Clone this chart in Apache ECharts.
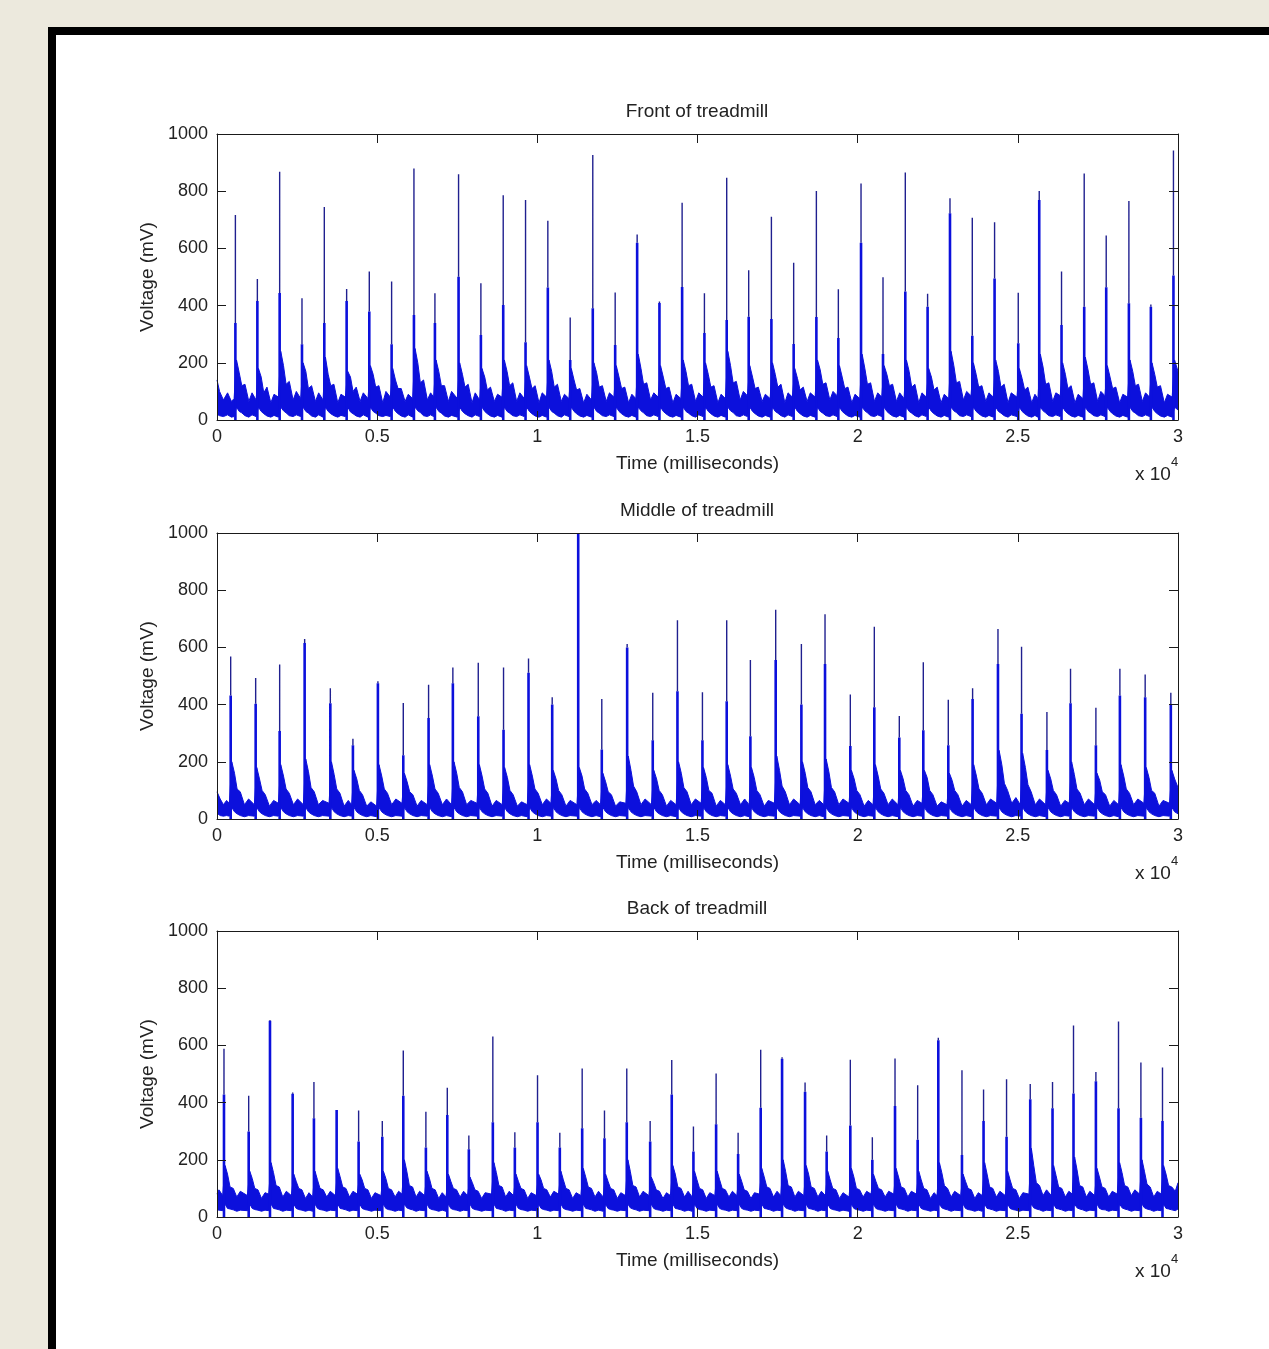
<!DOCTYPE html>
<html>
<head>
<meta charset="utf-8">
<title>Treadmill voltage</title>
<script src="https://cdn.jsdelivr.net/npm/echarts@6/dist/echarts.min.js"></script>
<style>
  html, body { margin: 0; padding: 0; background: #ECE9DD; overflow: hidden; width: 1269px; height: 1349px; }
  #frame { position: absolute; left: 48px; top: 27px; width: 1300px; height: 1400px; border: 8px solid #000; background: #fff; box-sizing: border-box; }
  #chart { position: absolute; left: 0; top: 0; width: 1269px; height: 1349px; }
</style>
</head>
<body>
<div id="frame"></div>
<div id="chart"></div>
<script>
// spike times (ms), peak and shoulder voltages (mV)
const frontSpikeT = [574,1260,1956,2653,3350,4047,4754,5451,6148,6803,7541,8238,8935,9632,10328,11026,11731,12430,13116,13812,14520,15216,15912,16598,17307,18002,18711,19397,20105,20791,21487,22183,22882,23578,24274,25013,25668,26364,27072,27759,28467,29153,29858]
const frontPeak = [717,493,868,426,745,458,519,484,879,443,859,478,786,769,697,358,927,446,649,414,760,443,847,524,711,550,801,457,827,499,865,441,775,707,691,445,801,519,862,645,766,404,942]
const frontShoulder = [339,416,444,265,339,416,379,265,367,339,501,297,402,272,463,210,391,262,620,409,465,304,350,361,353,266,360,287,620,231,449,396,723,295,495,268,769,332,396,464,408,396,505]

const middleSpikeT = [427,1207,1956,2736,3538,4243,5023,5815,6605,7363,8156,8945,9725,10464,11276,12012,12804,13603,14374,15154,15912,16651,17441,18243,18981,19771,20520,21300,22049,22829,23588,24380,25116,25908,26645,27437,28186,28975,29776]
const middlePeak = [568,493,540,629,457,281,482,406,469,530,546,530,561,426,1000,420,612,441,695,443,695,556,732,612,716,435,672,360,548,417,457,664,602,374,525,389,525,505,441]
const middleShoulder = [432,403,308,615,405,258,475,223,353,475,359,312,511,400,1000,243,600,275,447,275,412,289,556,400,542,255,391,285,310,258,420,542,368,241,405,258,432,426,400]

const backSpikeT = [218,989,1654,2362,3026,3735,4421,5160,5815,6521,7189,7862,8611,9298,10006,10702,11400,12096,12792,13522,14196,14873,15581,16268,16973,17640,18358,19032,19771,20458,21166,21873,22517,23256,23930,24648,25387,26083,26738,27437,28143,28842,29516]
const backPeak = [588,424,689,435,472,376,372,336,582,368,452,285,631,296,496,295,519,372,519,336,549,316,502,295,585,559,470,285,550,279,554,461,627,513,446,482,465,472,670,507,684,540,523]
const backShoulder = [428,299,686,431,345,374,264,281,424,243,357,237,331,243,331,243,310,275,331,264,428,229,324,220,382,553,438,229,320,200,388,270,618,217,336,281,412,380,432,475,380,347,336]

// noise band envelope: [time, low, high]
const frontBand = [[0,20,140],[80,15,100],[200,12,70],[330,18,95],[450,10,65],
  [534,12,75],[609,45,210],[694,30,165],[774,25,120],[874,15,125],[994,10,65],[1094,18,95],
  [1220,12,70],[1295,45,180],[1380,30,150],[1460,22,95],[1560,14,115],[1680,10,60],[1780,16,90],
  [1916,10,80],[1991,45,240],[2076,32,190],[2156,25,125],[2256,15,135],[2376,12,70],[2476,18,100],
  [2613,12,75],[2688,45,200],[2773,30,170],[2853,24,110],[2953,14,120],[3073,10,65],[3173,18,95],
  [3310,10,70],[3385,45,220],[3470,30,160],[3550,22,120],[3650,15,125],[3770,10,60],[3870,16,90],
  [4007,12,80],[4082,45,170],[4167,28,150],[4247,22,100],[4347,14,115],[4467,10,65],[4567,18,95],
  [4714,10,75],[4789,45,190],[4874,30,160],[4954,24,115],[5054,15,120],[5174,12,60],[5274,16,100],
  [5411,12,80],[5486,45,180],[5571,30,140],[5651,22,110],[5751,14,110],[5871,10,65],[5971,18,90],
  [6108,10,75],[6183,45,250],[6268,32,200],[6348,26,130],[6448,15,140],[6568,12,70],[6668,18,95],
  [6763,12,80],[6838,45,210],[6923,30,170],[7003,24,120],[7103,14,120],[7223,10,65],[7323,16,100],
  [7501,10,75],[7576,45,200],[7661,30,160],[7741,22,115],[7841,15,125],[7961,10,60],[8061,18,95],
  [8198,12,70],[8273,45,180],[8358,30,150],[8438,22,105],[8538,14,115],[8658,10,65],[8758,16,90],
  [8895,10,80],[8970,45,210],[9055,30,170],[9135,24,120],[9235,15,130],[9355,12,65],[9455,18,95],
  [9592,12,75],[9667,45,190],[9752,30,150],[9832,22,110],[9932,14,120],[10052,10,60],[10152,16,95],
  [10288,10,80],[10363,45,210],[10448,30,170],[10528,24,115],[10628,15,125],[10748,10,65],[10848,18,90],
  [10986,12,75],[11061,45,180],[11146,30,140],[11226,22,105],[11326,14,110],[11446,10,60],[11546,16,90],
  [11691,10,70],[11766,45,200],[11851,30,165],[11931,24,115],[12031,15,120],[12151,12,65],[12251,18,95],
  [12390,12,80],[12465,45,190],[12550,30,150],[12630,22,110],[12730,14,115],[12850,10,60],[12950,16,90],
  [13076,10,75],[13151,45,230],[13236,32,180],[13316,25,125],[13416,15,130],[13536,12,70],[13636,18,95],
  [13772,12,80],[13847,45,190],[13932,30,150],[14012,22,110],[14112,14,115],[14232,10,60],[14332,16,90],
  [14480,10,75],[14555,45,210],[14640,30,170],[14720,24,120],[14820,15,125],[14940,10,65],[15040,18,95],
  [15176,12,80],[15251,45,200],[15336,30,160],[15416,22,115],[15516,14,120],[15636,10,60],[15736,16,90],
  [15872,10,75],[15947,45,240],[16032,32,190],[16112,26,130],[16212,15,135],[16332,12,70],[16432,18,100],
  [16558,12,85],[16633,45,190],[16718,30,150],[16798,22,110],[16898,14,115],[17018,10,65],[17118,16,90],
  [17267,10,75],[17342,45,200],[17427,30,160],[17507,24,115],[17607,15,125],[17727,10,60],[17827,18,95],
  [17962,12,80],[18037,45,180],[18122,30,145],[18202,22,105],[18302,14,115],[18422,10,65],[18522,16,95],
  [18671,10,80],[18746,45,210],[18831,30,175],[18911,24,125],[19011,15,130],[19131,12,70],[19231,18,100],
  [19357,12,85],[19432,45,190],[19517,30,150],[19597,22,110],[19697,14,115],[19817,10,60],[19917,16,90],
  [20065,10,75],[20140,45,230],[20225,32,180],[20305,25,125],[20405,15,130],[20525,12,65],[20625,18,95],
  [20751,12,80],[20826,45,190],[20911,30,160],[20991,22,120],[21091,14,125],[21211,10,65],[21311,16,95],
  [21447,10,75],[21522,45,210],[21607,30,170],[21687,24,115],[21787,15,125],[21907,10,60],[22007,18,95],
  [22143,12,80],[22218,45,180],[22303,30,150],[22383,22,105],[22483,14,115],[22603,10,60],[22703,16,90],
  [22842,10,75],[22917,45,240],[23002,32,190],[23082,26,130],[23182,15,135],[23302,12,70],[23402,18,100],
  [23538,12,85],[23613,45,200],[23698,30,160],[23778,22,115],[23878,14,120],[23998,10,65],[24098,16,95],
  [24234,10,80],[24309,45,210],[24394,30,170],[24474,24,115],[24574,15,125],[24694,10,60],[24794,18,95],
  [24973,12,80],[25048,45,180],[25133,30,145],[25213,22,105],[25313,14,115],[25433,10,60],[25533,16,90],
  [25628,10,75],[25703,45,230],[25788,32,185],[25868,25,125],[25968,15,130],[26088,12,65],[26188,18,95],
  [26324,12,85],[26399,45,200],[26484,30,160],[26564,22,110],[26664,14,120],[26784,10,60],[26884,16,90],
  [27032,10,75],[27107,45,220],[27192,30,175],[27272,24,125],[27372,15,130],[27492,12,65],[27592,18,100],
  [27719,12,85],[27794,45,190],[27879,30,150],[27959,22,110],[28059,14,115],[28179,10,60],[28279,16,90],
  [28427,10,80],[28502,45,210],[28587,30,170],[28667,24,120],[28767,15,125],[28887,12,65],[28987,18,95],
  [29113,12,80],[29188,45,200],[29273,30,160],[29353,22,115],[29453,14,120],[29573,10,60],[29673,16,90],
  [29818,10,80],[29893,45,210],[30000,35,170]]

const middleBand = [[0,20,95],[100,12,70],[200,10,50],[300,12,65],
  [387,10,55],[462,40,200],[547,25,160],[627,18,105],[727,12,95],[857,8,50],[987,12,70],
  [1167,10,50],[1242,40,180],[1327,25,140],[1407,18,100],[1507,12,85],[1637,8,45],[1767,12,65],
  [1916,10,55],[1991,40,190],[2076,25,150],[2156,18,105],[2256,12,90],[2386,8,50],[2516,12,70],
  [2696,10,50],[2771,40,210],[2856,25,165],[2936,18,110],[3036,12,95],[3166,8,50],[3296,12,65],
  [3498,10,55],[3573,40,200],[3658,25,155],[3738,18,105],[3838,12,90],[3968,8,45],[4098,12,65],
  [4203,10,50],[4278,40,170],[4363,25,140],[4443,18,100],[4543,12,85],[4673,8,45],[4803,12,60],
  [4983,8,45],[5058,40,190],[5143,25,150],[5223,18,105],[5323,12,90],[5453,8,50],[5583,12,70],
  [5775,10,55],[5850,40,160],[5935,25,130],[6015,18,95],[6115,12,85],[6245,8,45],[6375,12,65],
  [6565,10,50],[6640,40,190],[6725,25,150],[6805,18,105],[6905,12,90],[7035,8,50],[7165,12,70],
  [7323,8,50],[7398,40,200],[7483,25,160],[7563,18,110],[7663,12,95],[7793,8,50],[7923,12,65],
  [8116,10,55],[8191,40,190],[8276,25,150],[8356,18,105],[8456,12,90],[8586,8,45],[8716,12,65],
  [8905,10,50],[8980,40,180],[9065,25,145],[9145,18,100],[9245,12,85],[9375,8,45],[9505,12,60],
  [9685,8,50],[9760,40,190],[9845,25,150],[9925,18,105],[10025,12,90],[10155,8,50],[10285,12,70],
  [10424,10,55],[10499,40,170],[10584,25,140],[10664,18,100],[10764,12,85],[10894,8,45],[11024,12,65],
  [11236,10,50],[11311,40,180],[11396,25,150],[11476,18,105],[11576,12,90],[11706,8,50],[11836,12,65],
  [11972,8,50],[12047,40,160],[12132,25,130],[12212,18,95],[12312,12,85],[12442,8,45],[12572,12,60],
  [12764,10,55],[12839,40,220],[12924,25,170],[13004,18,115],[13104,12,95],[13234,8,50],[13364,12,70],
  [13563,10,50],[13638,40,170],[13723,25,140],[13803,18,100],[13903,12,85],[14033,8,45],[14163,12,65],
  [14334,8,50],[14409,40,200],[14494,25,160],[14574,18,110],[14674,12,95],[14804,8,50],[14934,12,70],
  [15114,10,55],[15189,40,180],[15274,25,145],[15354,18,100],[15454,12,90],[15584,8,45],[15714,12,65],
  [15872,10,50],[15947,40,190],[16032,25,150],[16112,18,105],[16212,12,90],[16342,8,50],[16472,12,70],
  [16611,8,50],[16686,40,180],[16771,25,145],[16851,18,100],[16951,12,85],[17081,8,45],[17211,12,65],
  [17401,10,55],[17476,40,220],[17561,25,170],[17641,18,115],[17741,12,95],[17871,8,50],[18001,12,70],
  [18203,10,50],[18278,40,200],[18363,25,160],[18443,18,110],[18543,12,95],[18673,8,50],[18803,12,65],
  [18941,8,50],[19016,40,210],[19101,25,165],[19181,18,110],[19281,12,95],[19411,8,50],[19541,12,70],
  [19731,10,55],[19806,40,170],[19891,25,140],[19971,18,100],[20071,12,85],[20201,8,45],[20331,12,65],
  [20480,10,50],[20555,40,190],[20640,25,150],[20720,18,105],[20820,12,90],[20950,8,50],[21080,12,70],
  [21260,8,50],[21335,40,170],[21420,25,140],[21500,18,100],[21600,12,85],[21730,8,45],[21860,12,65],
  [22009,10,55],[22084,40,170],[22169,25,145],[22249,18,100],[22349,12,85],[22479,8,45],[22609,12,60],
  [22789,10,50],[22864,40,160],[22949,25,135],[23029,18,100],[23129,12,85],[23259,8,45],[23389,12,65],
  [23548,8,50],[23623,40,190],[23708,25,150],[23788,18,105],[23888,12,90],[24018,8,50],[24148,12,70],
  [24340,10,55],[24415,40,240],[24500,25,190],[24580,18,125],[24680,12,100],[24810,8,55],[24940,12,75],
  [25076,10,50],[25151,40,230],[25236,25,180],[25316,18,120],[25416,12,95],[25546,8,50],[25676,12,70],
  [25868,8,50],[25943,40,170],[26028,25,140],[26108,18,100],[26208,12,85],[26338,8,45],[26468,12,65],
  [26605,10,55],[26680,40,200],[26765,25,155],[26845,18,105],[26945,12,90],[27075,8,50],[27205,12,70],
  [27397,10,50],[27472,40,160],[27557,25,135],[27637,18,95],[27737,12,85],[27867,8,45],[27997,12,65],
  [28146,8,50],[28221,40,190],[28306,25,150],[28386,18,105],[28486,12,90],[28616,8,50],[28746,12,70],
  [28935,10,55],[29010,40,180],[29095,25,145],[29175,18,100],[29275,12,90],[29405,8,45],[29535,12,65],
  [29736,10,55],[29811,40,170],[29896,25,140],[30000,18,110]]

const backBand = [[0,25,80],[60,20,95],
  [178,22,75],[253,45,180],[328,30,150],[408,28,105],[508,25,100],[618,20,70],[728,24,90],
  [949,22,75],[1024,45,160],[1099,30,135],[1179,26,100],[1279,24,95],[1389,20,65],[1499,24,85],
  [1614,22,80],[1689,45,190],[1764,30,155],[1844,28,110],[1944,25,105],[2054,20,70],[2164,24,90],
  [2322,22,75],[2397,45,150],[2472,30,125],[2552,26,100],[2652,24,95],[2762,20,65],[2872,24,85],
  [2986,20,70],[3061,45,160],[3136,30,130],[3216,26,100],[3316,24,95],[3426,20,70],[3536,24,90],
  [3695,22,75],[3770,45,170],[3845,30,140],[3925,28,105],[4025,25,100],[4135,20,70],[4245,24,90],
  [4381,22,80],[4456,45,150],[4531,30,130],[4611,26,100],[4711,24,95],[4821,20,65],[4931,24,85],
  [5120,22,75],[5195,45,160],[5270,30,135],[5350,26,100],[5450,24,95],[5560,20,70],[5670,24,90],
  [5775,22,80],[5850,45,200],[5925,32,160],[6005,28,110],[6105,25,105],[6215,20,70],[6325,24,90],
  [6481,22,75],[6556,45,160],[6631,30,135],[6711,26,100],[6811,24,95],[6921,20,65],[7031,24,85],
  [7149,20,70],[7224,45,150],[7299,30,125],[7379,26,100],[7479,24,95],[7589,20,70],[7699,24,90],
  [7822,22,75],[7897,45,140],[7972,30,120],[8052,26,95],[8152,24,90],[8262,20,65],[8372,24,85],
  [8571,22,80],[8646,45,190],[8721,30,155],[8801,28,110],[8901,25,105],[9011,20,70],[9121,24,90],
  [9258,22,75],[9333,45,150],[9408,30,125],[9488,26,100],[9588,24,95],[9698,20,65],[9808,24,85],
  [9966,22,75],[10041,45,150],[10116,30,130],[10196,26,100],[10296,24,95],[10406,20,70],[10516,24,90],
  [10662,22,80],[10737,45,160],[10812,30,130],[10892,26,100],[10992,24,95],[11102,20,65],[11212,24,85],
  [11360,22,75],[11435,45,170],[11510,30,140],[11590,28,105],[11690,25,100],[11800,20,70],[11910,24,90],
  [12056,20,70],[12131,45,150],[12206,30,125],[12286,26,100],[12386,24,95],[12496,20,65],[12606,24,85],
  [12752,22,75],[12827,45,200],[12902,32,160],[12982,28,110],[13082,25,105],[13192,20,70],[13302,24,90],
  [13482,22,75],[13557,45,140],[13632,30,120],[13712,26,95],[13812,24,90],[13922,20,65],[14032,24,85],
  [14156,22,75],[14231,45,180],[14306,30,150],[14386,28,105],[14486,25,100],[14596,20,70],[14706,24,90],
  [14833,20,70],[14908,45,160],[14983,30,130],[15063,26,100],[15163,24,95],[15273,20,65],[15383,24,85],
  [15541,22,75],[15616,45,160],[15691,30,130],[15771,26,100],[15871,24,95],[15981,20,70],[16091,24,90],
  [16228,22,75],[16303,45,150],[16378,30,125],[16458,26,95],[16558,24,90],[16668,20,65],[16778,24,85],
  [16933,22,80],[17008,45,170],[17083,30,140],[17163,28,105],[17263,25,100],[17373,20,70],[17483,24,90],
  [17600,22,75],[17675,45,200],[17750,32,160],[17830,28,110],[17930,25,105],[18040,20,70],[18150,24,90],
  [18318,22,75],[18393,45,180],[18468,30,150],[18548,28,105],[18648,25,100],[18758,20,70],[18868,24,90],
  [18992,22,75],[19067,45,160],[19142,30,130],[19222,26,100],[19322,24,95],[19432,20,65],[19542,24,85],
  [19731,20,70],[19806,45,170],[19881,30,140],[19961,26,100],[20061,24,95],[20171,20,70],[20281,24,90],
  [20418,22,80],[20493,45,150],[20568,30,125],[20648,26,100],[20748,24,95],[20858,20,70],[20968,24,90],
  [21126,22,80],[21201,45,170],[21276,30,140],[21356,28,105],[21456,25,100],[21566,20,70],[21676,24,90],
  [21833,22,80],[21908,45,160],[21983,30,130],[22063,26,100],[22163,24,95],[22273,20,65],[22383,24,85],
  [22477,22,75],[22552,45,190],[22627,32,155],[22707,28,110],[22807,25,100],[22917,20,70],[23027,24,90],
  [23216,22,75],[23291,45,150],[23366,30,125],[23446,26,100],[23546,24,95],[23656,20,65],[23766,24,85],
  [23890,20,75],[23965,45,190],[24040,30,150],[24120,28,105],[24220,25,100],[24330,20,70],[24440,24,90],
  [24608,22,75],[24683,45,160],[24758,30,130],[24838,26,100],[24938,24,95],[25048,20,65],[25158,24,85],
  [25347,22,80],[25422,45,240],[25497,32,180],[25577,28,120],[25677,25,110],[25787,20,75],[25897,24,95],
  [26043,22,75],[26118,45,180],[26193,30,145],[26273,28,105],[26373,25,100],[26483,20,70],[26593,24,90],
  [26698,22,80],[26773,45,210],[26848,32,165],[26928,28,110],[27028,25,105],[27138,20,70],[27248,24,90],
  [27397,22,75],[27472,45,170],[27547,30,140],[27627,26,105],[27727,25,100],[27837,20,70],[27947,24,90],
  [28103,22,80],[28178,45,190],[28253,32,155],[28333,28,110],[28433,25,105],[28543,20,75],[28653,24,95],
  [28802,22,80],[28877,45,200],[28952,32,160],[29032,28,115],[29132,25,105],[29242,20,70],[29352,24,90],
  [29476,22,80],[29551,45,180],[29626,30,150],[29706,28,110],[29806,25,105],[29916,22,90],[30000,28,120]]

const xTicks = [0, 5000, 10000, 15000, 20000, 25000, 30000]
const titles = ['Front of treadmill', 'Middle of treadmill', 'Back of treadmill']

const FONT = '"Liberation Sans", Arial, sans-serif'
const BLUE = '#0c10dc'
const SPIKE = '#20208f'
const INK = '#222'

const plots = [
  { top: 134, t: frontSpikeT, peak: frontPeak, sh: frontShoulder, band: frontBand },
  { top: 533, t: middleSpikeT, peak: middlePeak, sh: middleShoulder, band: middleBand },
  { top: 931, t: backSpikeT, peak: backPeak, sh: backShoulder, band: backBand }
]

// vertical segments, one per spike, broken apart with NaN
const spikeData = (ts, from, to) => {
  const out = []
  ts.forEach((t, i) => {
    out.push([t, from ? from[i] : 0], [t, to[i]], [t, NaN])
  })
  return out
}

const option = { animation: false, grid: [], xAxis: [], yAxis: [], series: [], graphic: [] }
const axisLine = { show: true, onZero: false, lineStyle: { color: '#1a1a1a', width: 1 } }
const axisTick = { show: true, inside: true, length: 9, lineStyle: { color: '#1a1a1a' } }
const labelStyle = { color: INK, fontSize: 18, fontFamily: FONT }

plots.forEach((p, i) => {
  option.grid.push({ left: 217, width: 961, top: p.top, height: 286 })
  const xBase = { type: 'value', gridIndex: i, min: xTicks[0], max: xTicks[xTicks.length - 1], interval: 5000, z: 6, splitLine: { show: false }, axisLine, axisTick }
  const yBase = { type: 'value', gridIndex: i, min: 0, max: 1000, interval: 200, z: 6, splitLine: { show: false }, axisLine, axisTick }
  option.xAxis.push({
    ...xBase,
    position: 'bottom',
    axisLabel: { ...labelStyle, margin: 8, formatter: (v) => String(v / 10000) },
    name: 'Time (milliseconds)',
    nameLocation: 'middle',
    nameGap: 34,
    nameTextStyle: { ...labelStyle, fontSize: 19 }
  })
  option.xAxis.push({ ...xBase, position: 'top', axisLabel: { show: false } })
  option.yAxis.push({
    ...yBase,
    position: 'left',
    axisLabel: { ...labelStyle, margin: 9, formatter: (v) => String(v) },
    name: 'Voltage (mV)',
    nameLocation: 'middle',
    nameGap: 56,
    nameTextStyle: { ...labelStyle, fontSize: 19 }
  })
  option.yAxis.push({ ...yBase, position: 'right', axisLabel: { show: false } })

  const common = { type: 'line', xAxisIndex: 2 * i, yAxisIndex: 2 * i, symbol: 'none', silent: true, clip: true }
  option.series.push({
    ...common, z: 2,
    data: p.band.map((b) => [b[0], b[2]]),
    lineStyle: { color: BLUE, width: 1 },
    areaStyle: { color: BLUE, opacity: 1 }
  })
  option.series.push({
    ...common, z: 3,
    data: p.band.map((b) => [b[0], b[1]]),
    lineStyle: { color: BLUE, width: 1 },
    areaStyle: { color: '#fff', opacity: 1 }
  })
  // thick lower part of each spike
  option.series.push({
    ...common, z: 4,
    connectNulls: false,
    data: spikeData(p.t, null, p.sh),
    lineStyle: { color: BLUE, width: 2.6, cap: 'butt' }
  })
  // thin upper part of each spike
  option.series.push({
    ...common, z: 5,
    connectNulls: false,
    data: spikeData(p.t, p.sh, p.peak),
    lineStyle: { color: SPIKE, width: 1.4 }
  })

  option.graphic.push({
    type: 'text', x: 697, y: p.top - 22,
    style: { text: titles[i], align: 'center', verticalAlign: 'middle', textAlign: 'center', textVerticalAlign: 'middle', fill: INK, font: '19px ' + FONT }
  })
  option.graphic.push({
    type: 'text', x: 1135, y: p.top + 286 + 55,
    style: { text: 'x 10', verticalAlign: 'middle', textVerticalAlign: 'middle', fill: INK, font: '19px ' + FONT }
  })
  option.graphic.push({
    type: 'text', x: 1171, y: p.top + 286 + 42,
    style: { text: '4', verticalAlign: 'middle', textVerticalAlign: 'middle', fill: INK, font: '13px ' + FONT }
  })
})

const chart = echarts.init(document.getElementById('chart'), null, { renderer: 'canvas' })
chart.setOption(option)
</script>
</body>
</html>
